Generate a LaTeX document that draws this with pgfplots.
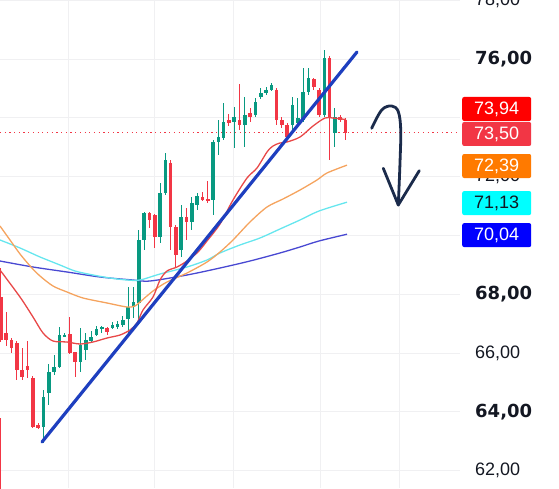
\documentclass[border=0pt]{standalone}
\usepackage{fontspec}
\setmainfont{Liberation Sans}
\newfontfamily\dv{DejaVu Sans}
\usepackage{pgfplots}
\usepackage{pgfplotstable}
\pgfplotsset{compat=1.18}
\definecolor{cgreen}{HTML}{089981}
\definecolor{cred}{HTML}{F23645}
\definecolor{mared}{HTML}{E84848}
\definecolor{maorange}{HTML}{F5A35E}
\definecolor{macyan}{HTML}{66E6EE}
\definecolor{mablue}{HTML}{4848D2}
\definecolor{trend}{HTML}{1E3FBF}
\definecolor{arrowc}{HTML}{1B2B4B}
\definecolor{gridc}{HTML}{F0F0F2}
\definecolor{lab}{HTML}{131722}

\pgfplotstableread{
i O H L C
8 63.483 64.742 62.939 64.504
9 64.640 65.626 64.232 65.354
10 65.354 65.932 65.252 65.524
11 65.524 66.885 65.490 66.612
12 66.544 66.681 66.544 66.612
15 65.694 66.851 65.354 66.272
16 66.102 66.681 65.762 66.442
17 66.408 66.749 66.340 66.544
18 66.612 66.919 66.578 66.817
19 66.817 66.919 66.681 66.885
21 66.851 67.055 66.817 66.953
22 66.885 67.089 66.817 66.987
23 66.953 67.259 66.885 67.123
24 67.157 68.245 66.681 67.565
25 67.565 68.245 67.191 67.735
26 67.701 70.184 67.123 69.844
27 69.844 70.796 69.504 70.762
30 69.946 71.783 69.742 71.442
31 71.442 72.803 71.374 72.565
34 69.504 71.034 69.266 70.626
36 70.456 71.306 70.184 71.102
37 71.034 71.442 70.864 71.340
40 71.204 73.245 70.694 73.177
41 73.177 73.925 72.735 73.347
42 73.313 74.504 73.245 73.857
44 73.857 74.368 72.973 74.027
46 73.755 74.708 73.007 74.095
48 74.095 74.674 74.027 74.538
49 74.708 75.014 74.640 74.844
50 74.844 75.048 74.776 74.946
51 74.946 75.184 74.912 75.116
55 73.755 74.708 73.585 74.436
56 73.823 74.674 73.755 73.993
57 73.925 75.694 73.857 74.878
58 74.878 75.694 74.776 75.354
61 74.095 76.306 74.027 76.034
63 73.483 74.334 73.007 74.027
}\greentab

\pgfplotstableread{
i O H L C
-0.3 63.79 63.79 61.0 61.0
0 67.905 68.891 66.374 66.442
1 66.681 67.395 66.238 66.442
2 66.442 66.510 66.000 66.170
3 66.340 66.408 65.082 65.422
4 65.422 66.170 65.082 65.184
5 65.558 66.408 65.150 65.422
6 65.150 65.218 63.449 63.483
7 63.551 63.619 63.415 63.449
13 66.647 67.225 65.966 66.000
14 66.034 66.034 65.184 65.694
20 66.851 66.885 66.612 66.715
28 70.762 70.796 70.252 70.524
29 70.694 70.728 69.572 69.946
32 72.463 72.565 69.504 70.286
33 70.286 70.354 68.891 69.334
35 70.626 70.932 69.844 70.456
38 71.306 71.476 71.170 71.204
39 71.238 71.851 71.102 71.170
43 73.925 74.129 73.721 73.823
45 73.925 75.150 73.585 73.755
47 74.164 74.334 73.857 74.027
52 74.946 75.014 73.755 73.925
53 73.925 74.027 73.653 73.755
54 73.755 73.823 73.313 73.347
59 75.320 75.354 74.946 75.048
60 74.946 75.014 74.027 74.095
62 76.034 76.102 72.565 73.993
64 74.027 74.095 73.857 73.925
65 73.925 73.993 73.245 73.50
}\redtab

\pgfplotsset{
  wick/.style={#1, draw=none, mark=none,
    error bars/.cd, y dir=both, y explicit, error mark=none,
    error bar style={line width=1pt, draw=#1, solid}},
  body/.style={#1, draw=none, mark=none,
    error bars/.cd, y dir=both, y explicit, error mark=none,
    error bar style={line width=3.6pt, draw=#1, solid, line cap=butt}},
}

\tikzset{pbox/.style={anchor=west, xshift=2pt, minimum width=69pt, minimum height=24pt,
  inner sep=0pt, rounded corners=2pt, font=\fontsize{18}{20}\selectfont}}

\begin{document}
\begin{tikzpicture}
\useasboundingbox (0,0) rectangle (559pt,488pt);
\clip (0,0) rectangle (559pt,488pt);
\begin{axis}[
  at={(0,0)}, anchor=south west,
  scale only axis, width=460pt, height=488pt,
  xmin=-0.1887, xmax=86.604, ymin=61.408, ymax=78.007,
  axis line style={draw=none},
  tick style={draw=none},
  major tick length=0pt,
  xtick={12.83,28.87,43.96,60.19,75.28},
  xticklabels={},
  ytick={62,64,66,68,70,72,74,76,78},
  yticklabels={{62,00},{\dv\bfseries 64,00},{66,00},{\dv\bfseries 68,00},{},{72,00},{},{\dv\bfseries 76,00},{78,00}},
  yticklabel pos=right,
  yticklabel style={anchor=west, inner sep=0pt, xshift=15pt, text=lab, font=\fontsize{18}{20}\selectfont},
  grid=major,
  major grid style={draw=gridc, line width=1pt},
  clip mode=individual,
]
% last price dotted line
\addplot[cred, line width=1.2pt, dash pattern=on 1.2pt off 3.5pt] coordinates {(-0.19,73.50) (86.6,73.50)};

% candles: wicks then bodies
\addplot[wick=cred] table[x=i, y expr={(\thisrow{H}+\thisrow{L})/2}, y error expr={(\thisrow{H}-\thisrow{L})/2}] {\redtab};
\addplot[wick=cgreen] table[x=i, y expr={(\thisrow{H}+\thisrow{L})/2}, y error expr={(\thisrow{H}-\thisrow{L})/2}] {\greentab};
\addplot[body=cred] table[x=i, y expr={(\thisrow{O}+\thisrow{C})/2}, y error expr={abs(\thisrow{O}-\thisrow{C})/2}] {\redtab};
\addplot[body=cgreen] table[x=i, y expr={(\thisrow{O}+\thisrow{C})/2}, y error expr={abs(\thisrow{O}-\thisrow{C})/2}] {\greentab};

% moving averages
\addplot[mablue, line width=1.3pt, smooth, tension=0.5] coordinates {
(-0.189,69.129) (6.038,68.925) (12.453,68.755) (18.679,68.585) (24.906,68.483)
(28.113,68.449) (35.094,68.653) (41.321,68.891) (46.981,69.129) (52.642,69.402)
(56.415,69.606) (60.0,69.810) (65.283,70.04)};
\addplot[macyan, line width=1.3pt, smooth, tension=0.5] coordinates {
(-0.189,69.844) (3.585,69.572) (7.358,69.266) (11.132,68.993) (13.962,68.789)
(17.358,68.653) (20.566,68.551) (23.774,68.483) (26.226,68.483) (30.0,68.687)
(35.094,68.925) (38.868,69.163) (41.321,69.402) (45.094,69.674) (48.868,69.912)
(52.642,70.218) (56.415,70.524) (60.0,70.830) (65.283,71.13)};
\addplot[maorange, line width=1.3pt, smooth, tension=0.5] coordinates {
(-0.189,70.320) (1.698,69.844) (3.585,69.368) (5.660,68.925) (7.358,68.619)
(9.811,68.279) (12.453,68.075) (15.472,67.871) (20.0,67.701) (23.774,67.565)
(25.283,67.599) (26.226,67.735) (28.679,68.109) (31.321,68.415) (35.094,68.721)
(38.868,69.095) (41.321,69.436) (43.774,69.844) (46.981,70.456) (50.189,70.966)
(53.208,71.238) (56.415,71.544) (59.623,71.885) (61.509,72.123) (65.283,72.39)};
\addplot[mared, line width=1.3pt, smooth, tension=0.5] coordinates {
(-0.189,68.823) (3.585,67.905) (6.038,67.225) (7.925,66.681) (9.811,66.408)
(12.453,66.374) (14.906,66.306) (17.358,66.374) (20.0,66.510) (22.453,66.612)
(24.340,66.783) (25.660,67.021) (26.792,67.463) (28.679,67.905) (30.0,68.483)
(31.321,68.789) (33.208,68.925) (35.094,69.129) (37.170,69.436) (38.868,69.810)
(41.321,70.388) (43.774,71.204) (46.415,71.952) (48.302,72.293) (50.189,72.837)
(51.321,73.041) (52.642,73.143) (53.962,73.177) (56.415,73.347) (58.868,73.721)
(61.132,73.993) (62.642,73.993) (65.094,73.94)};

% trend line
\addplot[trend, line width=3.2pt, line cap=round] coordinates {(7.736,62.973) (67.17,76.238)};

% hand-drawn arrow
\addplot[arrowc, line width=2.8pt, line cap=round, line join=round, smooth, tension=0.6] coordinates {
(69.94,73.643) (71.83,74.265) (73.72,74.402) (74.96,74.208) (75.42,73.585) (75.28,72.463) (74.96,71.034)};
\addplot[arrowc, line width=2.8pt, line cap=round, line join=round] coordinates {
(72.13,72.282) (74.96,71.034) (78.92,72.201)};

\coordinate (b1) at (axis cs:86.604,74.30);
\coordinate (b2) at (axis cs:86.604,73.45);
\coordinate (b3) at (axis cs:86.604,72.36);
\coordinate (b4) at (axis cs:86.604,71.10);
\coordinate (b5) at (axis cs:86.604,70.01);
\end{axis}
\node[pbox, fill={rgb,255:red,255;green,0;blue,0}, text=white] at (b1) {73,94};
\node[pbox, fill=cred, text=white] at (b2) {73,50};
\node[pbox, fill={rgb,255:red,255;green,122;blue,0}, text=white] at (b3) {72,39};
\node[pbox, fill={rgb,255:red,0;green,255;blue,255}, text=lab] at (b4) {71,13};
\node[pbox, fill={rgb,255:red,0;green,0;blue,255}, text=white] at (b5) {70,04};
\end{tikzpicture}
\end{document}
